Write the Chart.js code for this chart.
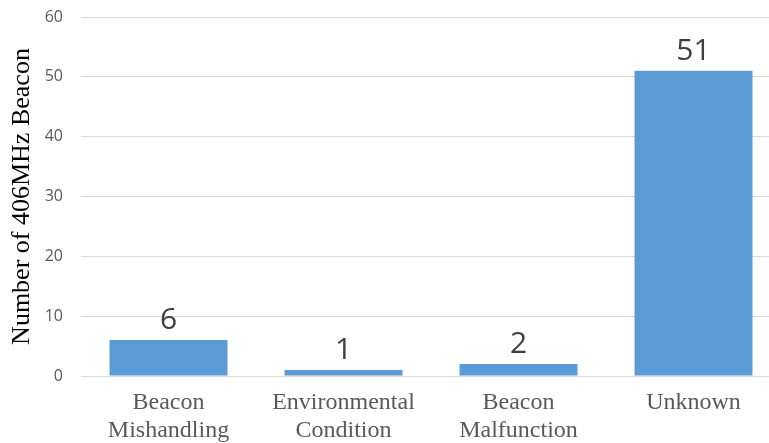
<!DOCTYPE html>
<html>
<head>
<meta charset="utf-8">
<script src="https://cdn.jsdelivr.net/npm/chart.js@4/dist/chart.umd.min.js"></script>
<style>
  html, body { margin: 0; padding: 0; background: #fff; overflow: hidden; }
  #wrap { width: 781px; height: 443px; }
</style>
</head>
<body>
<div id="wrap"><canvas id="causeChart"></canvas></div>
<script>
const causes = [['Beacon', 'Mishandling'], ['Environmental', 'Condition'], ['Beacon', 'Malfunction'], 'Unknown']
const beaconCounts = [6, 1, 2, 51]
const yTicks = [0, 10, 20, 30, 40, 50, 60]

// draws the number above each bar
const valueLabels = {
  id: 'valueLabels',
  afterDatasetsDraw(chart) {
    const ctx = chart.ctx
    const meta = chart.getDatasetMeta(0)
    ctx.save()
    ctx.font = '30px "Open Sans", sans-serif'
    ctx.fillStyle = '#404040'
    ctx.textAlign = 'center'
    ctx.textBaseline = 'alphabetic'
    meta.data.forEach((bar, i) => {
      ctx.fillText(String(chart.data.datasets[0].data[i]), bar.x, bar.y - 11)
    })
    ctx.restore()
  }
}

const data1 = {
  labels: causes,
  datasets: [
    {
      label: 'Number of 406MHz Beacon',
      backgroundColor: '#5b9bd5',
      data: beaconCounts,
      barPercentage: 0.674,
      categoryPercentage: 1,
    },
  ],
}

const config1 = {
  type: 'bar',
  data: data1,
  plugins: [valueLabels],
  options: {
    responsive: true,
    maintainAspectRatio: false,
    animation: false,
    layout: { padding: { top: 17, left: 0, right: 0, bottom: 0 } },
    plugins: { legend: { display: false }, tooltip: { enabled: false } },
    scales: {
      x: {
        grid: { display: false, drawTicks: false },
        border: { display: false },
        ticks: {
          color: '#595959',
          font: { family: '"Liberation Serif", serif', size: 24, lineHeight: 1.15 },
          padding: 13,
          maxRotation: 0,
          autoSkip: false,
        },
        afterFit: s => { s.height = 67; s.paddingTop = 0; s.paddingBottom = 0 },
      },
      y: {
        min: 0,
        max: 60,
        afterBuildTicks: s => { s.ticks = yTicks.map(v => ({ value: v })) },
        grid: { color: '#d9d9d9', lineWidth: 1, drawTicks: false },
        border: { display: false },
        ticks: {
          color: '#595959',
          font: { family: '"Open Sans", sans-serif', size: 16 },
          padding: 18,
        },
        title: {
          display: true,
          text: 'Number of 406MHz Beacon',
          color: '#000',
          font: { family: '"Liberation Serif", serif', size: 26 },
          padding: { top: 7, bottom: 0 },
        },
        afterFit: s => { s.width = 81; s.paddingTop = 0; s.paddingBottom = 0 },
      },
    },
  },
}

const canvas1 = document.getElementById('causeChart')
const chart1 = new Chart(canvas1, config1)
</script>
</body>
</html>
